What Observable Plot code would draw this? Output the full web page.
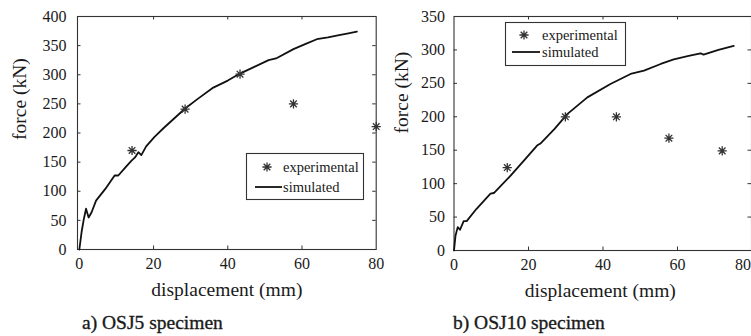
<!DOCTYPE html>
<html>
<head>
<meta charset="utf-8">
<script src="https://cdn.jsdelivr.net/npm/d3@7"></script>
<script src="https://cdn.jsdelivr.net/npm/@observablehq/plot@0.6"></script>
<style>
  html, body { margin: 0; padding: 0; background: #fff; }
  #wrap { position: relative; width: 751px; height: 336px; overflow: hidden; background: #fff;
          font-family: "Liberation Serif", "Times New Roman", serif; color: #1a1a1a; }
  .panel { position: absolute; top: 0; }
  .caption { position: absolute; top: 311px; font-size: 19.5px; line-height: 24px; white-space: nowrap;
             -webkit-text-stroke: 0.35px #1a1a1a; }
  .legend { position: absolute; overflow: visible; }
</style>
</head>
<body>
<div id="wrap"></div>
<script>
// ---------- data ----------
const xTicks = [0, 20, 40, 60, 80];
const yTicksA = [0, 50, 100, 150, 200, 250, 300, 350, 400];
const yTicksB = [0, 50, 100, 150, 200, 250, 300, 350];

const seriesNames = ["experimental", "simulated"];
const captions = ["a) OSJ5 specimen", "b) OSJ10 specimen"];
const xLabel = "displacement (mm)";
const yLabel = "force (kN)";

// OSJ5 simulated
const simDispA  = [0, 0.6, 1.2, 1.8, 2.5, 3.3, 4.5, 7.0, 9.5, 10.5, 12.3, 14.0, 15.0, 15.9, 16.7, 18.0, 20.2, 22.8, 25.4, 28.5, 32.0, 36.1, 40.0, 43.3, 47.0, 51.0, 53.0, 57.7, 61.0, 64.0, 67.0, 70.0, 72.5, 74.8];
const simForceA = [0, 30, 52, 70, 55, 64, 84, 104, 127, 127, 140, 152, 158, 167, 162, 177, 193, 209, 224, 242, 259, 278, 290, 302, 313, 325, 328, 344, 353, 361, 364, 368, 371, 374];
// OSJ5 experimental
const expDispA  = [14.2, 28.5, 43.3, 57.7, 80];
const expForceA = [170, 241, 301, 250, 211];

// OSJ10 simulated
const simDispB  = [0, 0.4, 1.0, 1.6, 2.6, 3.4, 6.0, 9.8, 10.7, 15.2, 19.0, 22.3, 23.2, 27.0, 30.4, 35.8, 42.0, 47.4, 51.0, 55.5, 59.0, 63.0, 66.2, 67.0, 71.0, 75.1];
const simForceB = [0, 22, 35, 31, 44, 44, 62, 85, 86, 112, 136, 157, 160, 182, 204, 229, 249, 264, 269, 279, 286, 291, 295, 293, 300, 306];
// OSJ10 experimental
const expDispB  = [14.3, 29.9, 43.6, 57.7, 72.0];
const expForceB = [124, 200, 200, 168, 149];

// ---------- helpers ----------
const toRows = (xs, ys) => xs.map((x, i) => ({x, y: ys[i]}));

// 8-arm asterisk (MATLAB style "*")
const asterisk = {
  draw(ctx, size) {
    const r = Math.sqrt(size / Math.PI);
    const d = r * 0.72;
    ctx.moveTo(-r, 0); ctx.lineTo(r, 0);
    ctx.moveTo(0, -r); ctx.lineTo(0, r);
    ctx.moveTo(-d, -d); ctx.lineTo(d, d);
    ctx.moveTo(-d, d); ctx.lineTo(d, -d);
  }
};

function panel({width, marginLeft, marginRight, marginTop, marginBottom, xDomain, yDomain, yTicks,
                sim, exp, yPad, yLabelDx, yLabelDy, xLabelDx, lastTickEnd}) {
  const fw = width - marginLeft - marginRight;
  const fh = 336 - marginTop - marginBottom;
  const innerY = yTicks.slice(1, -1);
  const innerX = xTicks.slice(1, -1);
  const axisFont = 16;
  const xAxisMarks = lastTickEnd
    ? [Plot.axisX(xTicks.slice(0, -1), {tickSize: 0, tickPadding: 8, label: null, fontSize: axisFont}),
       Plot.axisX(xTicks.slice(-1), {tickSize: 0, tickPadding: 8, label: null, fontSize: axisFont,
                                     textAnchor: "end", dx: -1})]
    : [Plot.axisX(xTicks, {tickSize: 0, tickPadding: 8, label: null, fontSize: axisFont})];
  return Plot.plot({
    width, height: 336, marginLeft, marginRight, marginTop, marginBottom,
    x: {domain: xDomain},
    y: {domain: yDomain},
    style: {fontFamily: '"Liberation Serif", "Times New Roman", serif', fontSize: "16px", color: "#1a1a1a",
            background: "transparent", overflow: "visible"},
    marks: [
      Plot.frame({stroke: "#333", strokeWidth: 1.1}),
      // inward ticks on all four sides
      Plot.tickY(innerY, {y: d => d, insetRight: fw - 3.5, stroke: "#333"}),
      Plot.tickY(innerY, {y: d => d, insetLeft: fw - 3.5, stroke: "#333"}),
      Plot.tickX(innerX, {x: d => d, insetTop: fh - 3.5, stroke: "#333"}),
      Plot.tickX(innerX, {x: d => d, insetBottom: fh - 3.5, stroke: "#333"}),
      ...xAxisMarks,
      Plot.axisY(yTicks, {tickSize: 0, tickPadding: yPad, label: null, fontSize: axisFont}),
      Plot.text([yLabel], {frameAnchor: "left", dx: yLabelDx, dy: yLabelDy, rotate: -90, text: d => d,
                           fontSize: 19.5, letterSpacing: "0.4px", fill: "#1a1a1a"}),
      Plot.text([xLabel], {frameAnchor: "bottom", dy: 46, dx: xLabelDx, text: d => d,
                           fontSize: 19.5, letterSpacing: "0.5px", fill: "#1a1a1a"}),
      Plot.line(sim, {x: "x", y: "y", stroke: "#111", strokeWidth: 1.8, strokeLinejoin: "round"}),
      Plot.dot(exp, {x: "x", y: "y", symbol: asterisk, r: 4.6, stroke: "#333", strokeWidth: 1.3, fill: "none"})
    ]
  });
}

function legend(left, top, w, h, starX, starY, lineX1, lineX2, lineY, textX) {
  const ns = "http://www.w3.org/2000/svg";
  const svg = document.createElementNS(ns, "svg");
  svg.setAttribute("class", "legend");
  svg.setAttribute("width", w + 1);
  svg.setAttribute("height", h + 1);
  svg.style.left = left + "px";
  svg.style.top = top + "px";
  const r = 4.6, d = r * 0.72;
  svg.innerHTML = `
    <rect x="0.5" y="0.5" width="${w - 1}" height="${h - 1}" fill="#fff" stroke="#333" stroke-width="1.1"/>
    <path d="M${starX - r},${starY}H${starX + r}M${starX},${starY - r}V${starY + r}M${starX - d},${starY - d}L${starX + d},${starY + d}M${starX - d},${starY + d}L${starX + d},${starY - d}" stroke="#333" stroke-width="1.3" fill="none"/>
    <line x1="${lineX1}" x2="${lineX2}" y1="${lineY}" y2="${lineY}" stroke="#111" stroke-width="1.8"/>
    <text x="${textX}" y="${starY}" dominant-baseline="central" font-family="Liberation Serif, Times New Roman, serif" font-size="14.5" fill="#1a1a1a">${seriesNames[0]}</text>
    <text x="${textX}" y="${lineY}" dominant-baseline="central" font-family="Liberation Serif, Times New Roman, serif" font-size="14.5" fill="#1a1a1a">${seriesNames[1]}</text>`;
  return svg;
}

const wrap = document.getElementById("wrap");

const pA = panel({
  width: 378, marginLeft: 77, marginRight: 2.3, marginTop: 16, marginBottom: 87,
  xDomain: [-0.5, 80], yDomain: [0, 400], yTicks: yTicksA,
  sim: toRows(simDispA, simForceA), exp: toRows(expDispA, expForceA),
  yPad: 11, yLabelDx: -58, yLabelDy: 7, xLabelDx: 0, lastTickEnd: false
});
pA.classList.add("panel");
pA.style.left = "0px";
wrap.appendChild(pA);

const pB = panel({
  width: 373, marginLeft: 75.5, marginRight: 0, marginTop: 16, marginBottom: 86,
  xDomain: [0, 79.87], yDomain: [0, 350], yTicks: yTicksB,
  sim: toRows(simDispB, simForceB), exp: toRows(expDispB, expForceB),
  yPad: 9, yLabelDx: -52, yLabelDy: 0, xLabelDx: -2.5, lastTickEnd: true
});
pB.classList.add("panel");
pB.style.left = "378px";
wrap.appendChild(pB);

wrap.appendChild(legend(246, 153, 118, 47, 21, 14, 9, 36, 34, 37));
wrap.appendChild(legend(505, 22, 121, 44, 19, 13, 7, 35, 30, 37));

captions.forEach((c, i) => {
  const el = document.createElement("div");
  el.className = "caption";
  el.textContent = c;
  el.style.left = (i === 0 ? 82 : 453) + "px";
  wrap.appendChild(el);
});
</script>
</body>
</html>
